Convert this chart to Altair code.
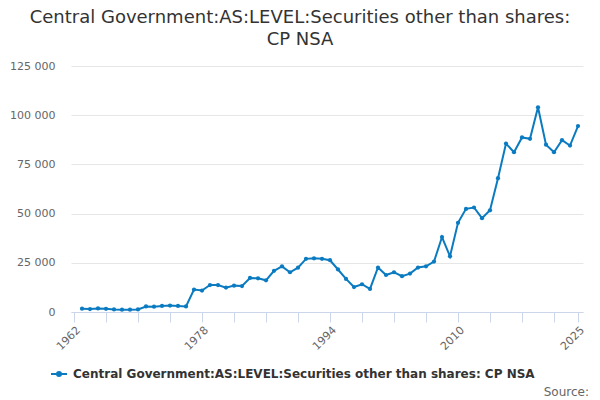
import altair as alt
import pandas as pd

series_name = "Central Government:AS:LEVEL:Securities other than shares: CP NSA"
years = list(range(1963, 2026))
values = [1700, 1500, 1800, 1600, 1300, 1200, 1200, 1300,
          2800, 2700, 3100, 3300, 3100, 2800,
          11400, 10900, 13700, 13700, 12400, 13400, 13200, 17300, 17100, 16100,
          20900, 23200, 20200, 22500,
          27000, 27300, 27000, 26300, 21600, 16800, 12700, 14100, 11700, 22600,
          18800, 20200, 18200, 19500, 22600, 23200, 25600, 38100, 28300, 45300,
          52400, 53100, 47700, 51700, 68000, 85600, 81200, 88700, 88000, 104000,
          85000, 81200, 87300, 84600, 94500]
x_ticks = [1962, 1966, 1970, 1974, 1978, 1982, 1986, 1990, 1994, 1998, 2002,
           2006, 2010, 2014, 2018, 2022, 2025]
x_labels = [1962, 1978, 1994, 2010, 2025]
y_ticks = [0, 25000, 50000, 75000, 100000, 125000]

df = pd.DataFrame({"year": years, "value": values, "series": series_name})

FONT = "DejaVu Sans"
COLOR = "#0b7bc1"

label_list = ",".join(str(v) for v in x_labels)

line = alt.Chart(df).mark_line(
    strokeWidth=2,
    point=alt.OverlayMarkDef(size=18, filled=True, opacity=1),
).encode(
    x=alt.X("year:Q",
            scale=alt.Scale(domain=[1961.625, 2025.625], nice=False, zero=False),
            axis=alt.Axis(title=None, values=x_ticks, format="d",
                          labelExpr=f"indexof([{label_list}], datum.value) >= 0 ? datum.label : ''",
                          labelAngle=-45, labelAlign="right", labelBaseline="top",
                          labelFontSize=11, labelColor="#666666", labelFont=FONT,
                          tickColor="#ccd6eb", tickSize=10, domainColor="#ccd6eb",
                          grid=False, labelPadding=2, labelOverlap=False)),
    y=alt.Y("value:Q",
            scale=alt.Scale(domain=[0, 125000], nice=False),
            axis=alt.Axis(title=None, values=y_ticks,
                          labelExpr="replace(format(datum.value, ','), ',', ' ')",
                          labelFontSize=11, labelColor="#666666", labelFont=FONT,
                          ticks=False, domain=False, labelPadding=16,
                          gridColor="#e6e6e6", gridWidth=1)),
    color=alt.Color("series:N",
                    scale=alt.Scale(domain=[series_name], range=[COLOR]),
                    legend=alt.Legend(title=None, orient="none", legendX=-21, legendY=299,
                                      symbolType="M-1,0H1M-0.25,0A0.25,0.25 0 1,1 0.25,0A0.25,0.25 0 1,1 -0.25,0Z",
                                      symbolSize=256, symbolStrokeWidth=2,
                                      symbolFillColor=COLOR, symbolStrokeColor=COLOR,
                                      labelFontSize=12, labelFontWeight="bold",
                                      labelColor="#333333", labelFont=FONT,
                                      labelLimit=1000, labelOffset=5)),
)

source = alt.Chart(pd.DataFrame({"t": ["Source:"]})).mark_text(
    align="right", baseline="alphabetic", fontSize=12, font=FONT, color="#666666"
).encode(text="t:N", x=alt.value(518), y=alt.value(330))

chart = alt.layer(line, source).properties(
    width=512,
    height=246,
    autosize=alt.AutoSizeParams(type="none"),
    padding={"left": 63, "top": 58, "right": 9, "bottom": 88},
    title=alt.TitleParams(
        text=["Central Government:AS:LEVEL:Securities other than shares:", "CP NSA"],
        anchor="middle", frame="group", dx=-27, offset=11,
        fontSize=18, fontWeight="normal", color="#333333", font=FONT, lineHeight=22,
    ),
).configure_view(stroke=None)

chart.save("out.html", embed_options={"renderer": "svg", "actions": False})
